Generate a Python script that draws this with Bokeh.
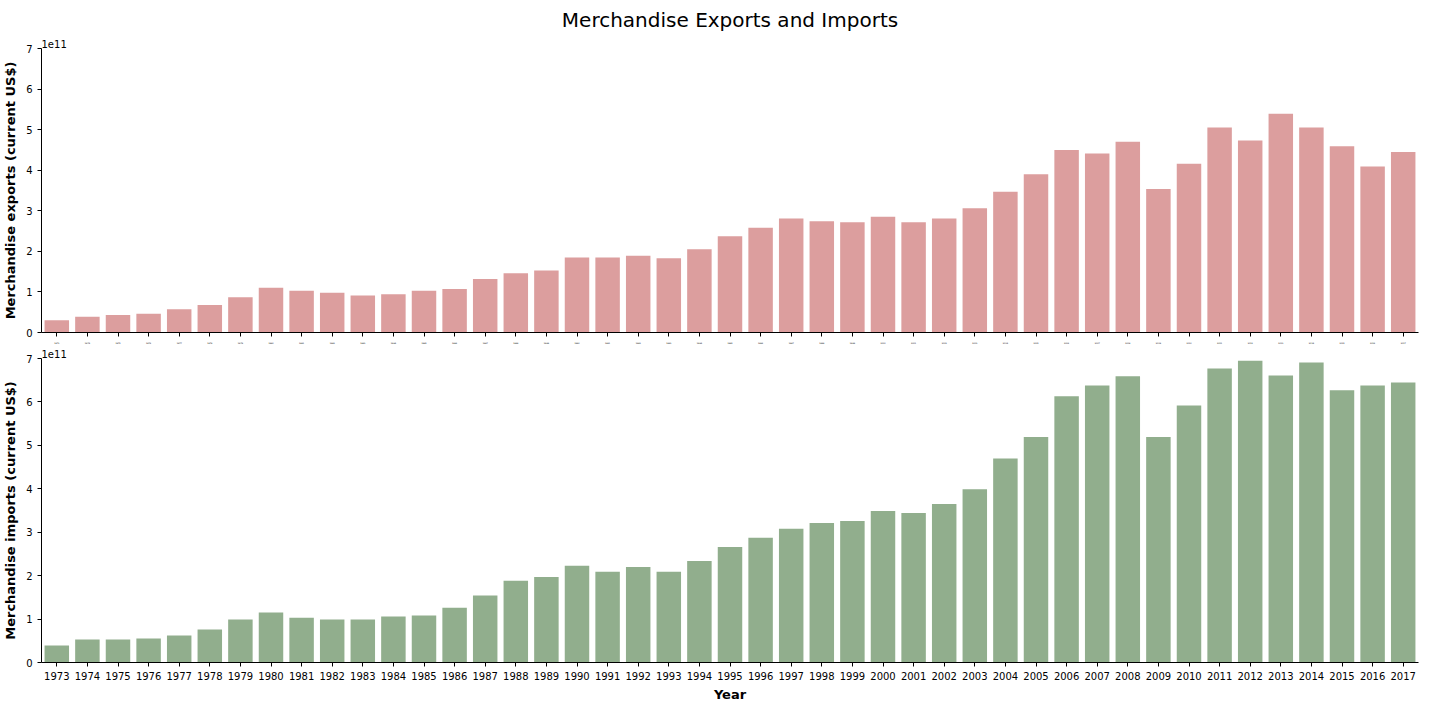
from bokeh.plotting import figure
from bokeh.layouts import column
from bokeh.models import FixedTicker, Title
from bokeh.embed import file_html
from bokeh.resources import INLINE

years = [str(y) for y in range(1973, 2018)]
# values in units of 1e11 current US$
exports = [0.30, 0.39, 0.43, 0.46, 0.57, 0.68, 0.87, 1.10, 1.03, 0.98, 0.91, 0.94, 1.03, 1.07,
           1.32, 1.46, 1.53, 1.85, 1.85, 1.89, 1.83, 2.05, 2.37, 2.58, 2.81, 2.74, 2.72, 2.85,
           2.72, 2.81, 3.06, 3.47, 3.90, 4.50, 4.41, 4.70, 3.54, 4.16, 5.05, 4.73, 5.39, 5.05,
           4.59, 4.09, 4.45]
imports = [0.39, 0.53, 0.53, 0.55, 0.62, 0.76, 0.99, 1.15, 1.03, 0.99, 0.99, 1.06, 1.08, 1.26,
           1.54, 1.88, 1.97, 2.23, 2.09, 2.20, 2.09, 2.34, 2.66, 2.87, 3.08, 3.21, 3.26, 3.49,
           3.44, 3.65, 3.99, 4.70, 5.19, 6.13, 6.38, 6.59, 5.19, 5.92, 6.77, 6.95, 6.61, 6.91,
           6.27, 6.38, 6.45]


def panel(vals, color, ylabel, height, show_x=False):
    p = figure(x_range=years, y_range=(0, 7), width=1424, height=height,
               toolbar_location=None, tools="", output_backend="svg",
               min_border_left=0, min_border_right=6, min_border_top=0)
    p.vbar(x=years, top=vals, width=0.8, fill_color=color, line_color=None)
    p.xgrid.grid_line_color = None
    p.ygrid.grid_line_color = None
    p.outline_line_color = None
    p.yaxis.ticker = FixedTicker(ticks=list(range(8)))
    p.yaxis.axis_label = ylabel
    p.yaxis.axis_label_text_font_style = "bold"
    p.yaxis.axis_label_text_font_size = "13px"
    p.yaxis.axis_label_text_font = "DejaVu Sans"
    p.yaxis.axis_label_text_color = "black"
    for ax in (p.xaxis, p.yaxis):
        ax.major_label_text_font = "DejaVu Sans"
        ax.major_label_text_font_size = "10px"
        ax.major_label_text_color = "black"
        ax.major_tick_in = 0
        ax.major_tick_out = 4
        ax.minor_tick_line_color = None
        ax.axis_line_color = "black"
        ax.major_tick_line_color = "black"
    p.x_range.range_padding = 0.0
    p.add_layout(Title(text="1e11", align="left", text_font="DejaVu Sans",
                       text_font_size="10px", text_font_style="normal",
                       text_color="black", offset=0, standoff=2), "above")
    if show_x:
        p.xaxis.axis_label = "Year"
        p.xaxis.axis_label_text_font_style = "bold"
        p.xaxis.axis_label_text_font_size = "13px"
        p.xaxis.axis_label_text_font = "DejaVu Sans"
        p.xaxis.axis_label_text_color = "black"
        p.xaxis.axis_label_standoff = 4
    else:
        p.xaxis.major_label_overrides = {y: " " for y in years}
        p.xaxis.major_label_text_font_size = "2px"
    return p


top = panel(exports, "#dc9e9e", "Merchandise exports (current US$)", 346)
top.add_layout(Title(text="Merchandise Exports and Imports", align="center",
                     text_font="DejaVu Sans", text_font_size="20px",
                     text_font_style="normal", text_color="black"), "above")
bottom = panel(imports, "#91ae8d", "Merchandise imports (current US$)", 358, show_x=True)

p = column(top, bottom, spacing=0)
open("out.html", "w").write(file_html(p, INLINE))
